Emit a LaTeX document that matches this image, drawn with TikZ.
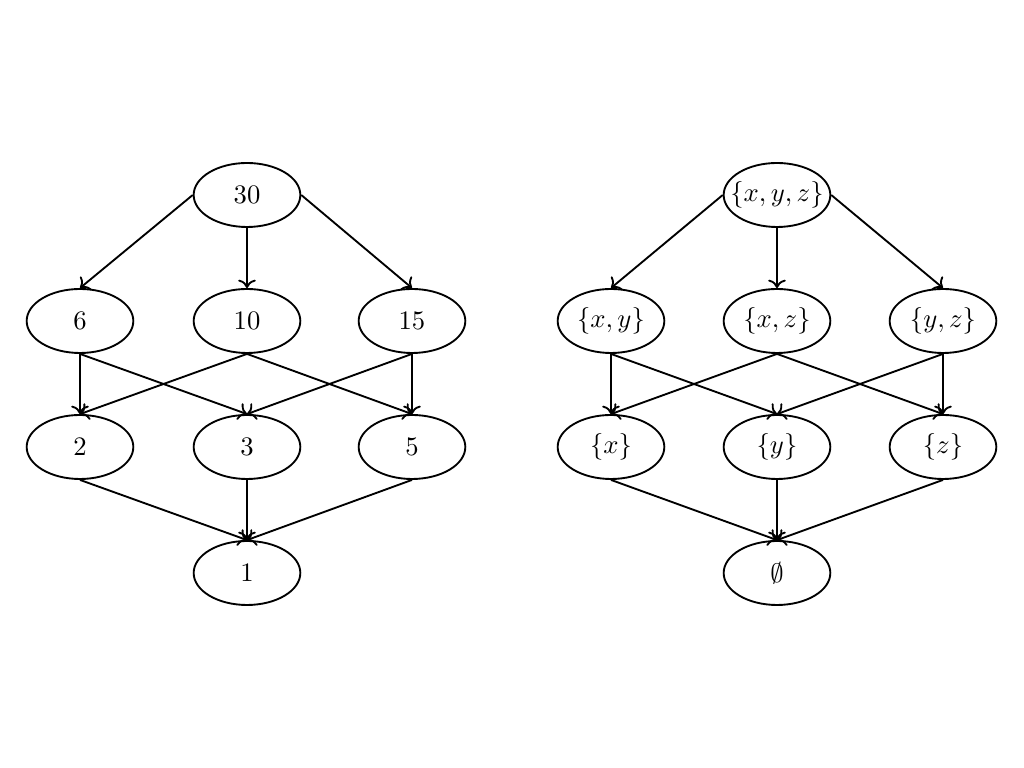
\documentclass[tikz,border=0pt]{standalone}
\usepackage{amsmath,amssymb}
\usetikzlibrary{shapes.geometric,arrows.meta}

\begin{document}
\begin{tikzpicture}[x=0.375pt,y=-0.375pt,>=To,
    elt/.style={draw,ellipse,line width=0.7pt,minimum width=40pt,minimum height=24pt,inner sep=-4pt},
    cover/.style={->,line width=0.7pt}]
  \useasboundingbox (0,0) rectangle (1024,768);
  % divisors of 30
  \node[elt] (d30) at (247,195) {$30$};
  \foreach \n/\x in {6/80,10/247,15/412} \node[elt] (d\n) at (\x,321) {$\n$};
  \foreach \n/\x in {2/80,3/247,5/412} \node[elt] (d\n) at (\x,447) {$\n$};
  \node[elt] (d1) at (247,573) {$1$};
  \draw[cover] (d30.west) -- (d6.north);
  \draw[cover] (d30.south) -- (d10.north);
  \draw[cover] (d30.east) -- (d15.north);
  \foreach \a/\b in {6/2,6/3,10/2,10/5,15/3,15/5,2/1,3/1,5/1}
    \draw[cover] (d\a.south) -- (d\b.north);
  % subsets of {x,y,z}
  \node[elt] (sxyz) at (777,195) {$\{x,y,z\}$};
  \foreach \n/\x/\t in {xy/611/{x,y},xz/777/{x,z},yz/943/{y,z}}
    \node[elt] (s\n) at (\x,321) {$\{\t\}$};
  \foreach \n/\x in {x/611,y/777,z/943}
    \node[elt] (s\n) at (\x,447) {$\{\n\}$};
  \node[elt] (sempty) at (777,573) {$\emptyset$};
  \draw[cover] (sxyz.west) -- (sxy.north);
  \draw[cover] (sxyz.south) -- (sxz.north);
  \draw[cover] (sxyz.east) -- (syz.north);
  \foreach \a/\b in {xy/x,xy/y,xz/x,xz/z,yz/y,yz/z,x/empty,y/empty,z/empty}
    \draw[cover] (s\a.south) -- (s\b.north);
\end{tikzpicture}
\end{document}
